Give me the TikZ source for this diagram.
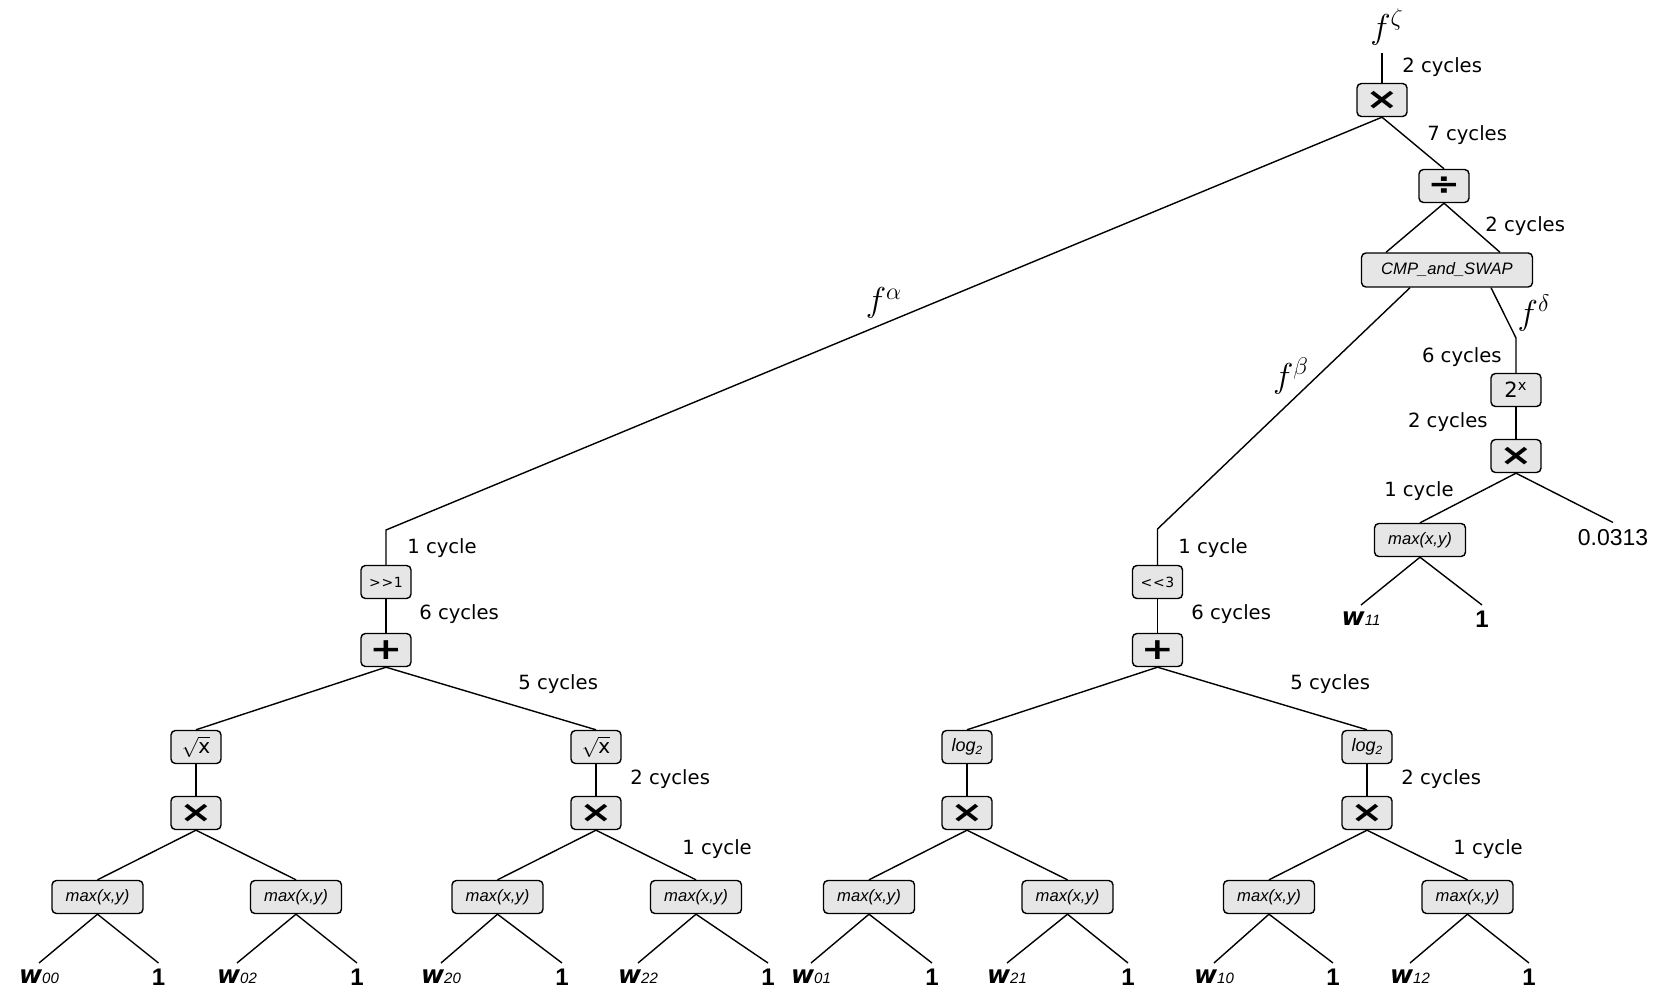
\documentclass[tikz,border=0pt]{standalone}
\usepackage{fontspec}
\usepackage{graphicx}
\usetikzlibrary{calc}
\newfontfamily\dv{DejaVu Sans}
\newfontfamily\lib{Liberation Sans}
\definecolor{boxgray}{HTML}{E6E6E6}
\newcommand\symb[1]{{\dv\bfseries\fontsize{15}{15}\selectfont\scalebox{1.3}[1]{#1}}}
\newcommand\boxit[1]{{\lib\itshape\fontsize{8.3}{8.3}\selectfont #1}}
\newcommand\wlab[1]{{\dv\bfseries\itshape\fontsize{12.5}{12.5}\selectfont w}{\lib\itshape\fontsize{7.5}{7.5}\selectfont #1}}
\newcommand\leafone{{\lib\bfseries\fontsize{12}{12}\selectfont 1}}
\newcommand\logtwo{{\lib\itshape\fontsize{9}{9}\selectfont log\raisebox{-0.25ex}{\fontsize{6}{6}\selectfont 2}}}
\newcommand\sqx{{\dv\fontsize{10}{10}\selectfont$\sqrt{\hbox{\dv\fontsize{10}{10}\selectfont x}}$}}
\begin{document}
\begin{tikzpicture}[x=0.5pt,y=-0.5pt,
  op/.style={draw, rounded corners=2.2pt, fill=boxgray, line width=0.7pt, minimum width=25pt, minimum height=16.5pt, inner sep=0pt},
  opw/.style={op, minimum width=45.5pt},
  opc/.style={op, minimum width=85.5pt, minimum height=17pt},
  lbl/.style={font=\dv\fontsize{9.8}{11}\selectfont, inner sep=0pt},
  mlbl/.style={font=\fontsize{17}{19}\selectfont, inner sep=0pt},
  leaf/.style={inner sep=3pt, anchor=north},
  edge/.style={line width=0.7pt},
]
\useasboundingbox (0,0) rectangle (1660,999);

% ---- top part ----
\node[mlbl] (fz) at (1387,27) {$f^{\zeta}$};
\node[op] (mul0) at (1382,100) {\symb{×}};
\node[op] (div) at (1444,186) {\symb{÷}};
\node[opc] (cmp) at (1447,270) {\boxit{CMP\_and\_SWAP}};
\coordinate (bD) at (1516,338);
\node[op] (pow) at (1516,390) {\dv\fontsize{10.5}{10.5}\selectfont 2\textsuperscript{x}};
\node[op] (mul1) at (1516,456) {\symb{×}};
\node[opw] (mxr) at (1420,540) {\boxit{max(x,y)}};
\node[inner sep=3.5pt, font=\lib\fontsize{11.5}{11.5}\selectfont] (c0313) at (1613,538) {0.0313};
\node[leaf] (w11) at (1361,605) {\wlab{11}};
\node[leaf] (o11) at (1482,605) {\leafone};

% ---- alpha branch ----
\coordinate (bA) at (386,530);
\node[op] (shr) at (386,582) {\dv\fontsize{7}{7}\selectfont >\kern0.3pt>\kern0.3pt1};
\node[op] (addA) at (386,650) {\symb{+}};
\node[op] (sqA) at (196,747) {\sqx};
\node[op] (sqB) at (596,747) {\sqx};
\node[op] (mA) at (196,813) {\symb{×}};
\node[op] (mB) at (596,813) {\symb{×}};
\node[opw] (mx00) at (97.5,897) {\boxit{max(x,y)}};
\node[opw] (mx02) at (296,897) {\boxit{max(x,y)}};
\node[opw] (mx20) at (497.5,897) {\boxit{max(x,y)}};
\node[opw] (mx22) at (696,897) {\boxit{max(x,y)}};
\node[leaf] (w00) at (39,963) {\wlab{00}};
\node[leaf] (o00) at (158.5,963) {\leafone};
\node[leaf] (w02) at (237,963) {\wlab{02}};
\node[leaf] (o02) at (357,963) {\leafone};
\node[leaf] (w20) at (441,963) {\wlab{20}};
\node[leaf] (o20) at (562,963) {\leafone};
\node[leaf] (w22) at (638,963) {\wlab{22}};
\node[leaf] (o22) at (768,963) {\leafone};

% ---- beta branch ----
\coordinate (bB) at (1157.5,529);
\node[op] (shl) at (1157.5,582) {\dv\fontsize{7}{7}\selectfont <\kern0.3pt<\kern0.3pt3};
\node[op] (addB) at (1157.5,650) {\symb{+}};
\node[op] (lgA) at (967,747) {\logtwo};
\node[op] (lgB) at (1367,747) {\logtwo};
\node[op] (mC) at (967,813) {\symb{×}};
\node[op] (mD) at (1367,813) {\symb{×}};
\node[opw] (mx01) at (869,897) {\boxit{max(x,y)}};
\node[opw] (mx21) at (1067.5,897) {\boxit{max(x,y)}};
\node[opw] (mx10) at (1269,897) {\boxit{max(x,y)}};
\node[opw] (mx12) at (1467.5,897) {\boxit{max(x,y)}};
\node[leaf] (w01) at (811,963) {\wlab{01}};
\node[leaf] (o01) at (932,963) {\leafone};
\node[leaf] (w21) at (1007,963) {\wlab{21}};
\node[leaf] (o21) at (1128,963) {\leafone};
\node[leaf] (w10) at (1214,963) {\wlab{10}};
\node[leaf] (o10) at (1333,963) {\leafone};
\node[leaf] (w12) at (1410,963) {\wlab{12}};
\node[leaf] (o12) at (1529,963) {\leafone};

% ---- labels ----
\node[lbl, anchor=west] (l1) at (1402,67) {2 cycles};
\node[lbl, anchor=west] (l2) at (1427,135) {7 cycles};
\node[lbl, anchor=west] (l3) at (1485,226) {2 cycles};
\node[mlbl] (fd) at (1534,313) {$f^{\delta}$};
\node[lbl, anchor=east] (l4) at (1502,357) {6 cycles};
\node[lbl, anchor=east] (l5) at (1488,422) {2 cycles};
\node[lbl, anchor=east] (l6) at (1454,491) {1 cycle};
\node[mlbl] (fa) at (884,303) {$f^{\alpha}$};
\node[mlbl] (fb) at (1291,376) {$f^{\beta}$};
\node[lbl, anchor=west] (l7) at (407,548) {1 cycle};
\node[lbl, anchor=west] (l8) at (419,614) {6 cycles};
\node[lbl, anchor=west] (l9) at (518,684) {5 cycles};
\node[lbl, anchor=west] (l10) at (630,779) {2 cycles};
\node[lbl, anchor=west] (l11) at (682,849) {1 cycle};
\node[lbl, anchor=west] (l12) at (1178,548) {1 cycle};
\node[lbl, anchor=west] (l13) at (1191,614) {6 cycles};
\node[lbl, anchor=west] (l14) at (1290,684) {5 cycles};
\node[lbl, anchor=west] (l15) at (1401,779) {2 cycles};
\node[lbl, anchor=west] (l16) at (1453,849) {1 cycle};

% ---- edges ----
\draw[edge, shorten <=4pt] (fz.south -| mul0) -- (mul0.north);
\draw[edge] (mul0.south) -- (div.north);
\draw[edge] (mul0.south) -- (bA) -- (shr.north);
\draw[edge] (div.south) -- ($(cmp.north)+(-61,0)$);
\draw[edge] (div.south) -- ($(cmp.north)+(53,0)$);
\draw[edge] ($(cmp.south)+(-37,0)$) -- (bB) -- (shl.north);
\draw[edge] ($(cmp.south)+(44,0)$) -- (bD) -- (pow.north);
\draw[edge] (pow) -- (mul1);
\draw[edge] (mul1.south) -- (mxr.north);
\draw[edge] (mul1.south) -- (c0313.north);
\draw[edge] (mxr.south) -- (w11.north);
\draw[edge] (mxr.south) -- (o11.north);

\draw[edge] (shr) -- (addA);
\draw[edge] (addA.south) -- (sqA.north);
\draw[edge] (addA.south) -- (sqB.north);
\draw[edge] (sqA) -- (mA);
\draw[edge] (sqB) -- (mB);
\draw[edge] (mA.south) -- (mx00.north);
\draw[edge] (mA.south) -- (mx02.north);
\draw[edge] (mB.south) -- (mx20.north);
\draw[edge] (mB.south) -- (mx22.north);

\draw[edge] (shl) -- (addB);
\draw[edge] (addB.south) -- (lgA.north);
\draw[edge] (addB.south) -- (lgB.north);
\draw[edge] (lgA) -- (mC);
\draw[edge] (lgB) -- (mD);
\draw[edge] (mC.south) -- (mx01.north);
\draw[edge] (mC.south) -- (mx21.north);
\draw[edge] (mD.south) -- (mx10.north);
\draw[edge] (mD.south) -- (mx12.north);

\foreach \m/\w/\o in {mx00/w00/o00, mx02/w02/o02, mx20/w20/o20, mx22/w22/o22,
                      mx01/w01/o01, mx21/w21/o21, mx10/w10/o10, mx12/w12/o12}{
  \draw[edge] (\m.south) -- (\w.north);
  \draw[edge] (\m.south) -- (\o.north);
}
\end{tikzpicture}
\end{document}
